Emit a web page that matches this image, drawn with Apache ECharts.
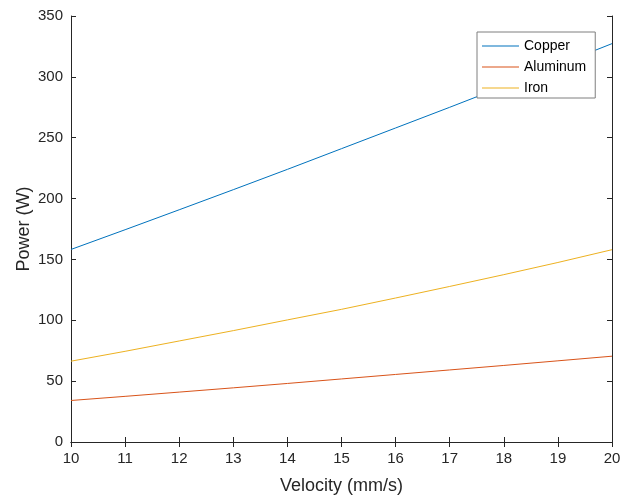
<!DOCTYPE html>
<html>
<head>
<meta charset="utf-8">
<script src="https://cdn.jsdelivr.net/npm/echarts@6/dist/echarts.min.js"></script>
<style>
html,body{margin:0;padding:0;background:#fff;}
#chart{width:620px;height:499px;}
</style>
</head>
<body>
<div id="chart"></div>
<script>
var velocity = [10, 11, 12, 13, 14, 15, 16, 17, 18, 19, 20];
var copper   = [158.2, 174.4, 190.8, 207.3, 224.0, 241.0, 258.0, 275.0, 292.3, 309.7, 327.3];
var aluminum = [34.1, 37.5, 41.0, 44.5, 48.1, 51.8, 55.5, 59.2, 62.9, 66.7, 70.5];
var iron     = [66.4, 74.5, 83.0, 91.5, 100.3, 109.0, 118.3, 127.8, 137.5, 147.5, 158.0];
var seriesNames = ['Copper', 'Aluminum', 'Iron'];
var seriesColors = ['#0072BD', '#D95319', '#EDB120'];
var xLabel = 'Velocity (mm/s)';
var yLabel = 'Power (W)';

function pairs(xs, ys) { return xs.map(function (x, i) { return [x, ys[i]]; }); }

var FONT = "'Liberation Sans', Arial, Helvetica, sans-serif";
var AX = '#262626';
var LINE_ICON = 'path://M0,0 L0,0 M0,6.5 L37,6.5 L37,7.5 L0,7.5 Z M37,14 L37,14';

var chart = echarts.init(document.getElementById('chart'), null, {renderer: 'canvas'});
var baseAxis = {
  axisLine: {show: true, lineStyle: {color: AX, width: 1}},
  axisTick: {show: true, inside: true, length: 5, lineStyle: {color: AX, width: 1}},
  splitLine: {show: false}
};
chart.setOption({
  backgroundColor: '#ffffff',
  animation: false,
  textStyle: {fontFamily: FONT},
  grid: {left: 71, right: 8, top: 16, bottom: 57, containLabel: false, outerBoundsMode: 'none'},
  legend: {
    orient: 'vertical',
    left: 477, top: 32,
    data: seriesNames.map(function (n) { return {name: n, icon: LINE_ICON}; }),
    itemWidth: 37, itemHeight: 14, itemGap: 7,
    padding: [7, 9, 3, 5],
    backgroundColor: '#ffffff',
    borderColor: '#7f7f7f', borderWidth: 1, borderRadius: 0,
    textStyle: {fontFamily: FONT, fontSize: 14, color: '#000000'}
  },
  xAxis: [
    Object.assign({}, baseAxis, {
      type: 'value', position: 'bottom', min: 10, max: 20, interval: 1,
      name: xLabel, nameLocation: 'middle', nameGap: 35, nameMoveOverlap: false,
      nameTextStyle: {fontFamily: FONT, fontSize: 18, color: AX},
      axisLabel: {show: true, margin: 9, fontFamily: FONT, fontSize: 15, color: AX}
    }),
    Object.assign({}, baseAxis, {
      type: 'value', position: 'top', min: 10, max: 20, interval: 1,
      axisLabel: {show: false}
    })
  ],
  yAxis: [
    Object.assign({}, baseAxis, {
      type: 'value', position: 'left', min: 0, max: 350, interval: 50,
      name: yLabel, nameLocation: 'middle', nameGap: 38, nameMoveOverlap: false,
      nameTextStyle: {fontFamily: FONT, fontSize: 18, color: AX},
      axisLabel: {show: true, margin: 8, fontFamily: FONT, fontSize: 15, color: AX}
    }),
    Object.assign({}, baseAxis, {
      type: 'value', position: 'right', min: 0, max: 350, interval: 50,
      axisLabel: {show: false}
    })
  ],
  series: [
    {name: seriesNames[0], type: 'line', data: pairs(velocity, copper), showSymbol: false, symbol: 'none',
     lineStyle: {color: seriesColors[0], width: 1}, itemStyle: {color: seriesColors[0]}},
    {name: seriesNames[1], type: 'line', data: pairs(velocity, aluminum), showSymbol: false, symbol: 'none',
     lineStyle: {color: seriesColors[1], width: 1}, itemStyle: {color: seriesColors[1]}},
    {name: seriesNames[2], type: 'line', data: pairs(velocity, iron), showSymbol: false, symbol: 'none',
     lineStyle: {color: seriesColors[2], width: 1}, itemStyle: {color: seriesColors[2]}}
  ]
});
</script>
</body>
</html>
